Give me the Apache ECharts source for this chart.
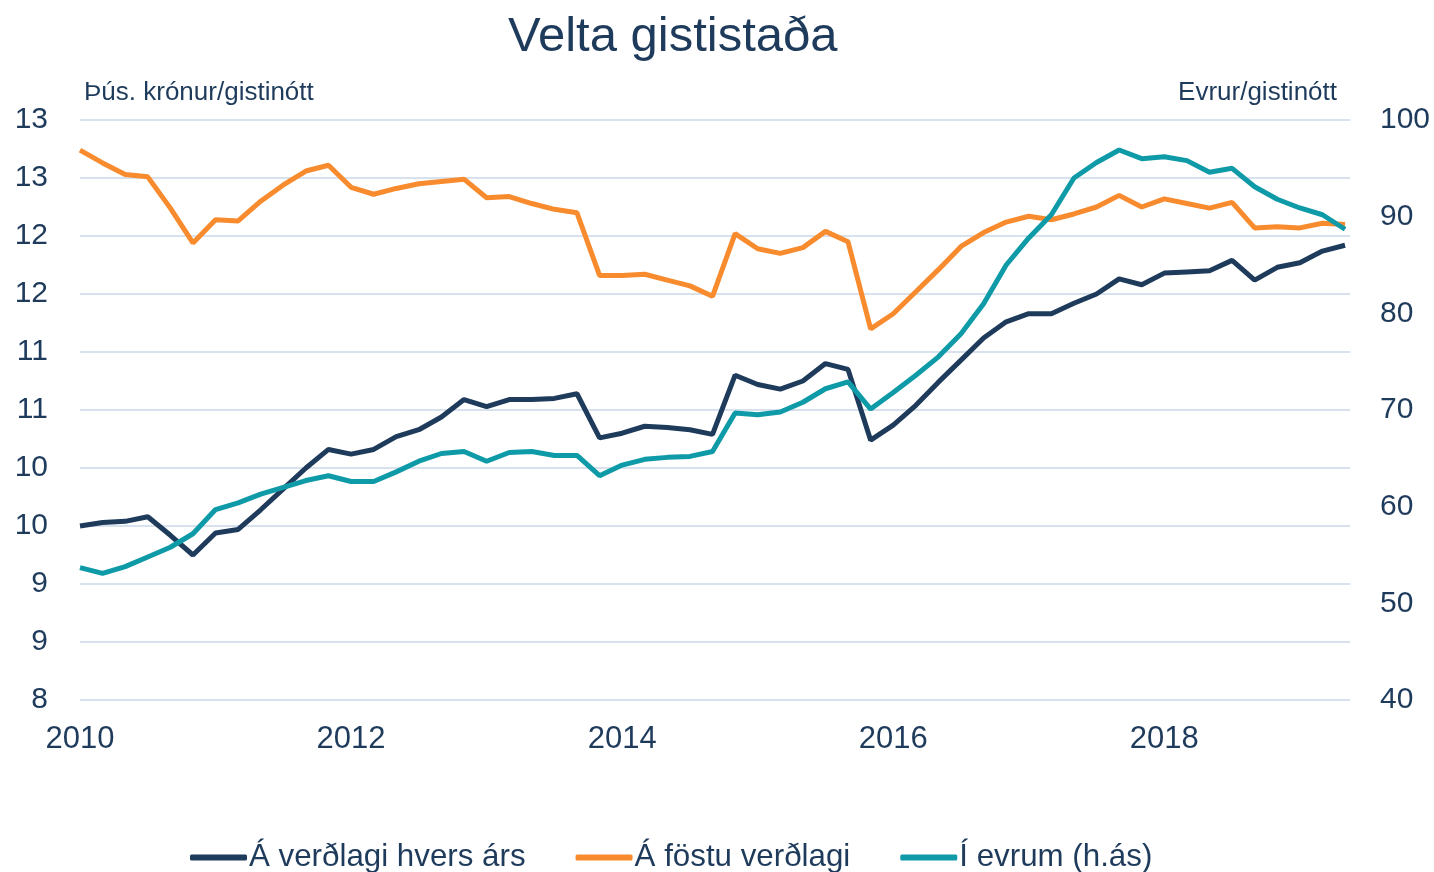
<!DOCTYPE html>
<html>
<head>
<meta charset="utf-8">
<script src="https://cdn.jsdelivr.net/npm/echarts@6/dist/echarts.min.js"></script>
<style>
  html, body { margin: 0; padding: 0; background: #fff; }
  #chart { width: 1434px; height: 872px; }
</style>
</head>
<body>
<div id="chart"></div>
<script>
// tveggja mánaða tímabil
const periods = [
  '2010-01','2010-03','2010-05','2010-07','2010-09','2010-11',
  '2011-01','2011-03','2011-05','2011-07','2011-09','2011-11',
  '2012-01','2012-03','2012-05','2012-07','2012-09','2012-11',
  '2013-01','2013-03','2013-05','2013-07','2013-09','2013-11',
  '2014-01','2014-03','2014-05','2014-07','2014-09','2014-11',
  '2015-01','2015-03','2015-05','2015-07','2015-09','2015-11',
  '2016-01','2016-03','2016-05','2016-07','2016-09','2016-11',
  '2017-01','2017-03','2017-05','2017-07','2017-09','2017-11',
  '2018-01','2018-03','2018-05','2018-07','2018-09','2018-11',
  '2019-01','2019-03','2019-05'
];

// Á verðlagi hvers árs (þús. kr.)
const currentPrices = [
  9.50, 9.53, 9.54, 9.58, 9.42, 9.25, 9.44, 9.47, 9.64, 9.82, 10.00, 10.16, 10.12, 10.16, 10.27,
  10.33, 10.44, 10.59, 10.53, 10.59, 10.59, 10.60, 10.64, 10.26, 10.30, 10.36, 10.35, 10.33, 10.29,
  10.80, 10.72, 10.68, 10.75, 10.90, 10.85, 10.24, 10.37, 10.54, 10.74, 10.93, 11.12, 11.26, 11.33, 11.33,
  11.42, 11.50, 11.63, 11.58, 11.68, 11.69, 11.70, 11.79, 11.62, 11.73, 11.77, 11.87, 11.92
];

// Á föstu verðlagi (þús. kr.)
const fixedPrices = [
  12.74, 12.63, 12.53, 12.51, 12.24, 11.94, 12.14, 12.13, 12.30, 12.44, 12.56, 12.61, 12.42, 12.36, 12.41,
  12.45, 12.47, 12.49, 12.33, 12.34, 12.28, 12.23, 12.20, 11.66, 11.66, 11.67, 11.62, 11.57, 11.48,
  12.02, 11.89, 11.85, 11.90, 12.04, 11.95, 11.20, 11.33, 11.52, 11.71, 11.91, 12.03, 12.12, 12.17, 12.14,
  12.19, 12.25, 12.35, 12.25, 12.32, 12.28, 12.24, 12.29, 12.07, 12.08, 12.07, 12.11, 12.10
];

// Í evrum (h.ás)
const euros = [
  53.7, 53.1, 53.8, 54.8, 55.8, 57.2, 59.7, 60.4, 61.3, 62.0, 62.7, 63.2, 62.6, 62.6, 63.6,
  64.7, 65.5, 65.7, 64.7, 65.6, 65.7, 65.3, 65.3, 63.2, 64.3, 64.9, 65.1, 65.2, 65.7,
  69.7, 69.5, 69.8, 70.8, 72.2, 72.9, 70.1, 71.8, 73.6, 75.5, 77.9, 81.0, 85.0, 87.8, 90.2,
  94.0, 95.6, 96.9, 96.0, 96.2, 95.8, 94.6, 95.0, 93.1, 91.8, 90.9, 90.2, 88.7
];

const seriesNames = ['Á verðlagi hvers árs', 'Á föstu verðlagi', 'Í evrum (h.ás)'];
const colors = ['#1f3b5c', '#f88b2e', '#0f9aa8'];

const textColor = '#1f3b5c';
const fontFamily = '"Liberation Sans", Arial, sans-serif';

// tímabil -> ár sem tugabrot
const xs = periods.map(p => {
  const [y, m] = p.split('-').map(Number);
  return y + (m - 1) / 12;
});
const pair = arr => arr.map((v, i) => [xs[i], v]);

const chart = echarts.init(document.getElementById('chart'));
const option = {
  animation: false,
  textStyle: { fontFamily: fontFamily, color: textColor },
  title: {
    text: 'Velta gististaða',
    left: 503,
    top: 8,
    textStyle: { fontFamily: fontFamily, fontSize: 49, fontWeight: 'normal', color: textColor }
  },
  grid: { left: 80, right: 84, top: 120, bottom: 172 },
  legend: {
    data: seriesNames,
    left: 185,
    top: 837,
    itemGap: 50,
    itemWidth: 57,
    itemHeight: 6,
    icon: 'roundRect',
    textStyle: { fontFamily: fontFamily, fontSize: 31.3, color: textColor, padding: [0, 0, 0, -3] }
  },
  xAxis: {
    type: 'value',
    min: 2010,
    max: 2019.37,
    interval: 2,
    axisLine: { show: false },
    axisTick: { show: false },
    splitLine: { show: false },
    axisLabel: {
      showMaxLabel: false,
      margin: 24,
      fontSize: 31,
      color: textColor,
      fontFamily: fontFamily,
      formatter: v => String(v)
    }
  },
  yAxis: [
    {
      type: 'value',
      min: 8,
      max: 13,
      interval: 0.5,
      name: 'Þús. krónur/gistinótt',
      nameLocation: 'end',
      nameGap: 27,
      nameTextStyle: { align: 'left', verticalAlign: 'middle', fontSize: 26, color: textColor, fontFamily: fontFamily, padding: [0, 0, 0, 4] },
      axisLine: { show: false },
      axisTick: { show: false },
      axisLabel: {
        margin: 32,
        fontSize: 30,
        color: textColor,
        fontFamily: fontFamily,
        formatter: v => String(Math.round(v))
      },
      splitLine: { lineStyle: { color: '#d8e2ee', width: 2 } }
    },
    {
      type: 'value',
      min: 40,
      max: 100,
      interval: 10,
      name: 'Evrur/gistinótt',
      nameLocation: 'end',
      nameGap: 27,
      nameTextStyle: { align: 'right', verticalAlign: 'middle', fontSize: 26, color: textColor, fontFamily: fontFamily, padding: [0, 13, 0, 0] },
      axisLine: { show: false },
      axisTick: { show: false },
      axisLabel: { margin: 30, fontSize: 30, color: textColor, fontFamily: fontFamily },
      splitLine: { show: false }
    }
  ],
  series: [
    {
      name: seriesNames[0],
      type: 'line',
      yAxisIndex: 0,
      data: pair(currentPrices),
      showSymbol: false,
      symbol: 'none',
      lineStyle: { width: 5, color: colors[0] },
      itemStyle: { color: colors[0] },
      z: 3
    },
    {
      name: seriesNames[1],
      type: 'line',
      yAxisIndex: 0,
      data: pair(fixedPrices),
      showSymbol: false,
      symbol: 'none',
      lineStyle: { width: 5, color: colors[1] },
      itemStyle: { color: colors[1] },
      z: 2
    },
    {
      name: seriesNames[2],
      type: 'line',
      yAxisIndex: 1,
      data: pair(euros),
      showSymbol: false,
      symbol: 'none',
      lineStyle: { width: 5, color: colors[2] },
      itemStyle: { color: colors[2] },
      z: 4
    }
  ]
};
chart.setOption(option);
</script>
</body>
</html>
